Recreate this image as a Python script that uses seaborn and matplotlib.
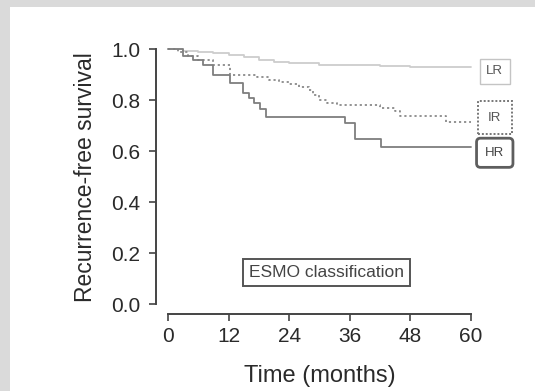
import matplotlib
matplotlib.use("Agg")
import matplotlib.pyplot as plt
from matplotlib.patches import Rectangle
import seaborn as sns
import pandas as pd

# ---- data ----
groups = ["LR", "IR", "HR"]
lr_time = [0, 3, 6, 9, 12, 15, 18, 21, 24, 30, 36, 42, 48, 60]
lr_surv = [1.0, 0.995, 0.99, 0.985, 0.978, 0.97, 0.96, 0.95, 0.945, 0.94, 0.937, 0.933, 0.93, 0.93]
ir_time = [0, 2, 4, 6, 9, 12.3, 17.6, 20, 22, 24, 26, 28, 28.8, 30, 31.5, 33.4, 42, 45, 46, 55, 60]
ir_surv = [1.0, 0.99, 0.976, 0.96, 0.94, 0.90, 0.89, 0.88, 0.873, 0.865, 0.853, 0.84, 0.82, 0.80, 0.79,
           0.78, 0.77, 0.76, 0.74, 0.715, 0.715]
hr_time = [0, 3, 5, 7, 9, 12.3, 14.9, 16, 17, 18.2, 19.5, 35, 37, 42.3, 60]
hr_surv = [1.0, 0.976, 0.957, 0.94, 0.90, 0.87, 0.83, 0.81, 0.79, 0.765, 0.735, 0.71, 0.65, 0.617, 0.617]
x_ticks = [0, 12, 24, 36, 48, 60]
y_ticks = [0.0, 0.2, 0.4, 0.6, 0.8, 1.0]
y_tick_labels = ["0.0", "0.2", "0.4", "0.6", "0.8", "1.0"]
label_y = {"LR": 0.914, "IR": 0.731, "HR": 0.594}
label_x = 64.75
box_text = "ESMO classification"
box_pos = (31.4, 0.124)

df = pd.concat([
    pd.DataFrame({"group": "LR", "time": lr_time, "surv": lr_surv}),
    pd.DataFrame({"group": "IR", "time": ir_time, "surv": ir_surv}),
    pd.DataFrame({"group": "HR", "time": hr_time, "surv": hr_surv}),
], ignore_index=True)

sns.set_style("ticks")
plt.rcParams["font.family"] = ["Liberation Sans", "DejaVu Sans"]

fig = plt.figure(figsize=(5.35, 3.91), dpi=100)
fig.patch.set_facecolor("#dadada")
panel = Rectangle((10 / 535, 0), 1, 1 - 7 / 391, transform=fig.transFigure,
                  facecolor="white", edgecolor="none", zorder=-10)
fig.add_artist(panel)
ax = fig.add_axes([0.2914, 0.1964, 0.6112, 0.7033])
ax.set_zorder(5)
ax.set_facecolor("none")

palette = {"LR": "#cdcdcd", "IR": "#8a8a8a", "HR": "#7e7e7e"}
dashes = {"LR": "", "IR": (1.2, 1.6), "HR": ""}
sns.lineplot(data=df, x="time", y="surv", hue="group", style="group", hue_order=groups,
             style_order=groups, palette=palette, dashes=dashes, drawstyle="steps-post",
             estimator=None, legend=False, ax=ax, linewidth=1.3)

ax.set_xlim(-2.4, 62.4)
ax.set_ylim(-0.04, 1.04)
ax.set_xticks(x_ticks)
ax.set_yticks(y_ticks)
ax.set_yticklabels(y_tick_labels)
for s in ["top", "right"]:
    ax.spines[s].set_visible(False)
ax.spines["left"].set_bounds(0, 1)
ax.spines["bottom"].set_bounds(0, 60)
for s in ["left", "bottom"]:
    ax.spines[s].set_color("#444444")
    ax.spines[s].set_linewidth(1.4)
ax.tick_params(axis="both", length=5, width=1.2, color="#444444", labelsize=15, labelcolor="#2a2a2a")
ax.tick_params(axis="y", pad=6)
ax.tick_params(axis="x", pad=4)
ax.set_xlabel("Time (months)", fontsize=17, color="#2a2a2a", labelpad=14)
ax.set_ylabel("Recurrence-free survival", fontsize=16.5, color="#2a2a2a", labelpad=10)

# group labels
ax.text(label_x, label_y["LR"], "LR", fontsize=9.5, color="#555555", ha="center", va="center",
        clip_on=False, bbox=dict(boxstyle="square,pad=0.5", fc="white", ec="#c4c4c4", lw=1.0))
ax.text(label_x, label_y["IR"], "IR", fontsize=9.5, color="#555555", ha="center", va="center",
        clip_on=False, bbox=dict(boxstyle="square,pad=0.8", fc="white", ec="#777777", lw=1.4,
                                 ls=(0, (1, 1))))
ax.text(label_x, label_y["HR"], "HR", fontsize=9.5, color="#444444", ha="center", va="center",
        clip_on=False, bbox=dict(boxstyle="round,pad=0.65,rounding_size=0.3", fc="white",
                                 ec="#5e5e5e", lw=2.0))

ax.text(box_pos[0], box_pos[1], box_text, fontsize=12.5, color="#444444", ha="center", va="center",
        bbox=dict(boxstyle="square,pad=0.35", fc="white", ec="#555555", lw=1.4))

fig.savefig("out.png", dpi=100, facecolor=fig.get_facecolor())
